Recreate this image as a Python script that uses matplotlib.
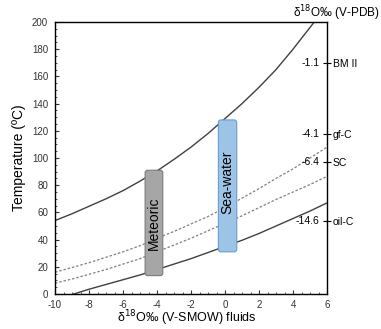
import matplotlib
matplotlib.use('Agg')
import matplotlib.pyplot as plt
from matplotlib.patches import FancyBboxPatch
from matplotlib.ticker import MultipleLocator

plt.rcParams['font.family'] = ['Liberation Sans', 'DejaVu Sans']
plt.rcParams['axes.unicode_minus'] = False

# curves: fluid d18O (x) vs temperature
x_bm = [-10, -9, -8, -7, -6, -5, -4, -3, -2, -1, 0, 1, 2, 3, 4, 5, 5.25]
t_bm = [54, 59, 64.5, 70, 76, 83, 90.5, 99, 108, 118, 129, 140, 152, 165, 180, 196, 200]

x_gf = [-10, -9, -8, -7, -6, -5, -4, -3, -2, -1, 0, 1, 2, 3, 4, 5, 6]
t_gf = [16, 19.5, 23, 27, 31, 35.5, 41, 46, 51.5, 57, 63.5, 70.5, 77.5, 85, 92, 100, 108]

x_sc = [-10, -9, -8, -7, -6, -5, -4, -3, -2, -1, 0, 1, 2, 3, 4, 5, 6]
t_sc = [8, 11, 14.5, 18, 22, 26, 31, 36, 41, 46.5, 52, 57.5, 63.5, 69.5, 75, 80.5, 86.5]

x_oil = [-8.9, -8, -7, -6, -5, -4, -3, -2, -1, 0, 1, 2, 3, 4, 5, 6]
t_oil = [0, 3.5, 7, 10.5, 14, 18, 22, 26, 30.5, 35, 39.5, 44.5, 50, 55.5, 61, 67]

# right-hand labels (calcite d18O V-PDB)
right_vals = ['-1.1', '-4.1', '-6.4', '-14.6']
right_names = ['BM II', 'gf-C', 'SC', 'oil-C']
right_t = [170, 118, 97, 54]

# fluid ranges
box_names = ['Meteoric', 'Sea-water']
box_x = [(-4.7, -3.66), (-0.39, 0.69)]
box_t = [(13.5, 91), (31, 128)]
box_text_t = [52, 82]

fig = plt.figure(figsize=(3.81, 3.29), dpi=100)
ax = fig.add_axes([0.1444, 0.1064, 0.7139, 0.8267])

dark = '#404040'
ax.plot(x_bm, t_bm, color=dark, lw=1.0)
ax.plot(x_oil, t_oil, color=dark, lw=1.0)
ax.plot(x_gf, t_gf, color='#808080', lw=0.9, ls=(0, (2, 1.5)))
ax.plot(x_sc, t_sc, color='#808080', lw=0.9, ls=(0, (2, 1.5)))

faces = ['#A6A6A6', '#9DC3E6']
edges = ['#7A7A7A', '#6A9BD0']
asp = (200 / 272) / (16 / 272)
for name, (x0, x1), (t0, t1), tt, fc, ec in zip(box_names, box_x, box_t, box_text_t, faces, edges):
    p = FancyBboxPatch((x0, t0), x1 - x0, t1 - t0,
                       boxstyle='round,pad=0,rounding_size=0.15',
                       mutation_aspect=asp, fc=fc, ec=ec, lw=0.8, zorder=3)
    ax.add_patch(p)
    ax.text((x0 + x1) / 2, tt, name, rotation=90, ha='center', va='center',
            fontsize=10, zorder=4)

ax.set_xlim(-10, 6)
ax.set_ylim(0, 200)
ax.xaxis.set_major_locator(MultipleLocator(2))
ax.xaxis.set_minor_locator(MultipleLocator(0.5))
ax.yaxis.set_major_locator(MultipleLocator(20))
ax.yaxis.set_minor_locator(MultipleLocator(5))
ax.tick_params(which='both', direction='in', labelsize=7, colors='#333333')
ax.tick_params(which='major', length=3)
ax.tick_params(which='minor', length=1.5)
ax.tick_params(axis='y', right=False, pad=5)
ax.tick_params(axis='x', pad=4)
for s in ax.spines.values():
    s.set_color('#333333')
    s.set_linewidth(1.0)

ax.set_ylabel('Temperature (ºC)', fontsize=10, labelpad=4)
fig.text(0.49, 0.032, 'δ$^{18}$O‰ (V-SMOW) fluids', ha='center', va='center', fontsize=9)

ax2 = ax.twinx()
ax2.set_ylim(0, 200)
ax2.set_yticks(right_t)
ax2.set_yticklabels(right_names, fontsize=7.5)
ax2.tick_params(axis='y', direction='inout', length=6, width=0.8, pad=1)
for v, t in zip(right_vals, right_t):
    ax2.text(5.55, t, v, ha='right', va='center', fontsize=7.5)

fig.text(0.997, 0.96, 'δ$^{18}$O‰ (V-PDB)', ha='right', va='center', fontsize=8.5)

fig.savefig('out.png', dpi=100)
